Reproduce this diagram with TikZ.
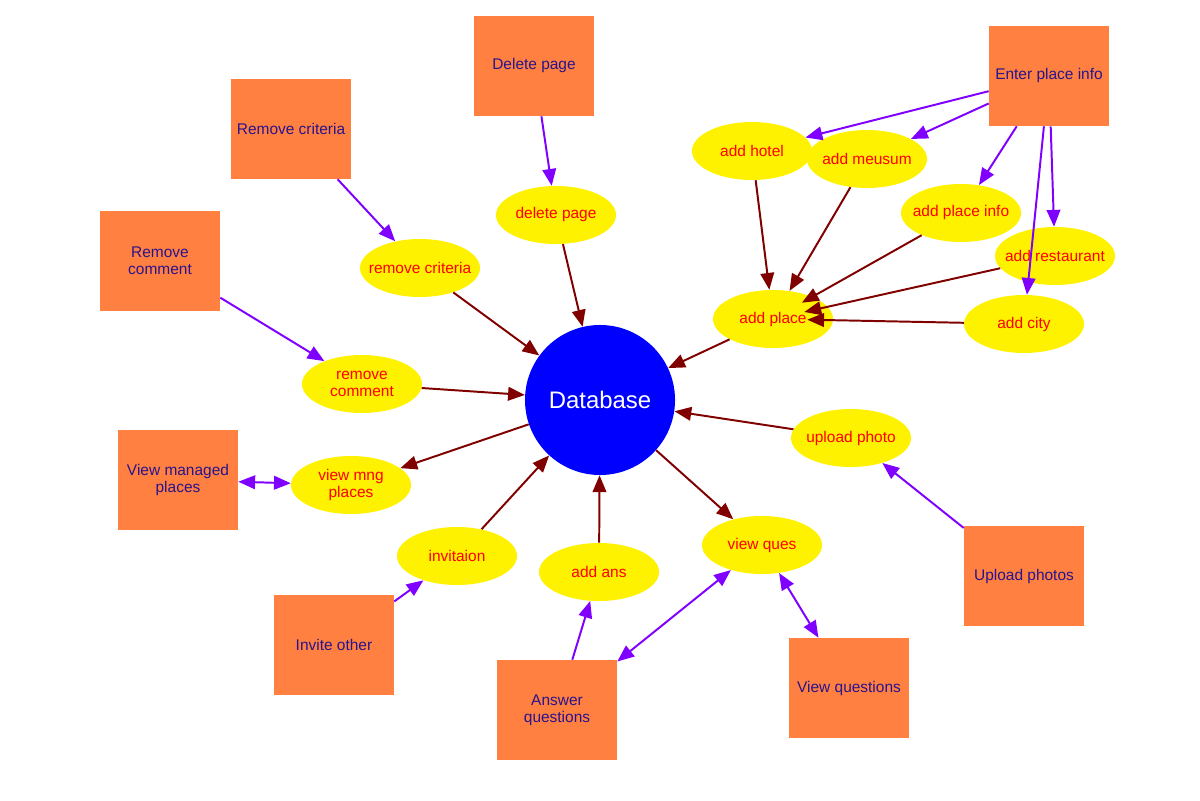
\documentclass[tikz,border=0pt]{standalone}
\usepackage{fontspec}
\setmainfont{Liberation Sans}
\usetikzlibrary{arrows.meta,shapes.geometric}
\definecolor{boxorange}{RGB}{255,128,64}
\definecolor{arrowred}{RGB}{128,0,0}
\definecolor{arrowpurple}{RGB}{128,0,255}
\definecolor{boxtext}{RGB}{40,20,140}

\begin{document}
\begin{tikzpicture}[x=0.025cm,y=-0.025cm,>={Triangle[length=0.42cm,width=0.34cm]},
 font=\fontsize{11}{12}\selectfont,
 db/.style={circle,fill=blue,minimum size=3.75cm,inner sep=0pt,text=white,font=\fontsize{17}{20}\selectfont},
 uc/.style={ellipse,fill=yellow,minimum width=3cm,minimum height=1.45cm,inner ysep=0pt,inner xsep=-0.35cm,text=red,align=center},
 actor/.style={rectangle,fill=boxorange,minimum width=3cm,minimum height=2.5cm,inner sep=0pt,text=boxtext,align=center},
 dbl/.style={->,draw=arrowred,line width=1.4pt},
 usl/.style={->,draw=arrowpurple,line width=1.4pt}]
\useasboundingbox (0,0) rectangle (1200,800);
\node[db] (db) at (600,400) {Database};
\node[actor] (delpage) at (534,66) {Delete page};
\node[actor] (remcrit) at (291,129) {Remove criteria};
\node[actor] (remcom) at (160,261) {Remove\\comment};
\node[actor] (viewmng) at (178,480) {View managed\\places};
\node[actor] (invite) at (334,645) {Invite other};
\node[actor] (answer) at (557,710) {Answer\\questions};
\node[actor] (viewq) at (849,688) {View questions};
\node[actor] (upload) at (1024,576) {Upload photos};
\node[actor] (enter) at (1049,76) {Enter place info};
\node[uc] (ucdel) at (556,215) {delete page};
\node[uc] (uccrit) at (420,268) {remove criteria};
\node[uc] (uccom) at (362,384) {remove\\comment};
\node[uc] (ucmng) at (351,485) {view mng\\places};
\node[uc] (ucinv) at (457,556) {invitaion};
\node[uc] (ucans) at (599,572) {add ans};
\node[uc] (ucques) at (762,545) {view ques};
\node[uc] (ucphoto) at (851,438) {upload photo};
\node[uc] (ucplace) at (773,319) {add place};
\node[uc] (uchotel) at (752,151) {add hotel};
\node[uc] (ucmus) at (867,159) {add meusum};
\node[uc] (ucinfo) at (961,213) {add place info};
\node[uc] (ucrest) at (1055,256) {add restaurant};
\node[uc] (uccity) at (1024,324) {add city};
\draw[dbl] (ucdel) -- (db);
\draw[dbl] (uccrit) -- (db);
\draw[dbl] (uccom) -- (db);
\draw[dbl] (db) -- (ucmng);
\draw[dbl] (ucinv) -- (db);
\draw[dbl] (ucans) -- (db);
\draw[dbl] (db) -- (ucques);
\draw[dbl] (ucphoto) -- (db);
\draw[dbl] (ucplace) -- (db);
\draw[dbl] (uchotel) -- (ucplace);
\draw[dbl] (ucmus) -- (ucplace);
\draw[dbl,shorten >=-0.3cm] (ucinfo) -- (ucplace);
\draw[dbl,shorten >=-0.6cm] (ucrest) -- (ucplace);
\draw[dbl,shorten >=-0.65cm] (uccity) -- (ucplace);
\draw[usl] (delpage) -- (ucdel);
\draw[usl] (remcrit) -- (uccrit);
\draw[usl] (remcom) -- (uccom);
\draw[usl,<->] (viewmng) -- (ucmng);
\draw[usl] (invite) -- (ucinv);
\draw[usl] (answer) -- (ucans);
\draw[usl,<->] (answer) -- (ucques);
\draw[usl,<->] (ucques) -- (viewq);
\draw[usl] (upload) -- (ucphoto);
\draw[usl] (enter) -- (uchotel);
\draw[usl] (enter) -- (ucmus);
\draw[usl] (enter) -- (ucinfo);
\draw[usl] (enter) -- (ucrest);
\draw[usl] (enter) -- (uccity);
\end{tikzpicture}
\end{document}
